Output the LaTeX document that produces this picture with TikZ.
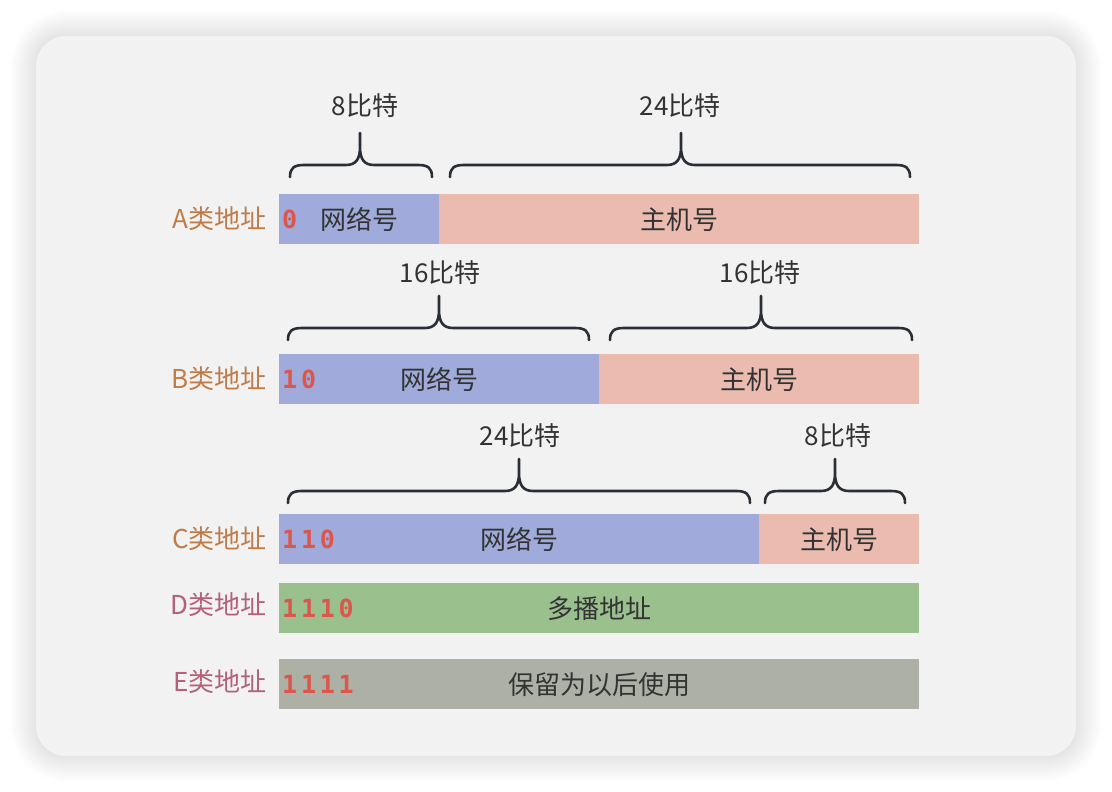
\documentclass[tikz,border=0pt]{standalone}
\usepackage{fontspec}
\setmainfont{Noto Sans CJK SC}
\newfontfamily\bitfont{DejaVu Sans Mono}[LetterSpace=15]
\definecolor{cardbg}{HTML}{F2F2F2}
\definecolor{netblue}{HTML}{A0ABDC}
\definecolor{hostpink}{HTML}{EBBBB0}
\definecolor{mcgreen}{HTML}{9AC18D}
\definecolor{resgray}{HTML}{ADB0A5}
\definecolor{bitred}{HTML}{DC564C}
\definecolor{labbrown}{HTML}{C07C48}
\definecolor{labpink}{HTML}{B5607A}
\definecolor{txt}{HTML}{333333}
\definecolor{bracec}{HTML}{2A2E35}
\newcommand{\bitbrace}[4]{% x1, x2, xm, yline
  \draw[bracestyle] (#1,#4+12) .. controls (#1,#4+3) and (#1+4,#4) .. (#1+14,#4)
    -- (#3-14,#4) .. controls (#3-4,#4) and (#3,#4-6) .. (#3,#4-18) -- (#3,#4-32)
    (#3,#4-18) .. controls (#3,#4-6) and (#3+4,#4) .. (#3+14,#4)
    -- (#2-14,#4) .. controls (#2-4,#4) and (#2,#4+3) .. (#2,#4+12);}
\begin{document}
\begin{tikzpicture}[x=1pt,y=-1pt,
  bar/.style={draw=none,anchor=north west,minimum height=50pt,inner sep=0pt,
    font=\fontsize{26}{26}\selectfont,text=txt},
  bits/.style={anchor=west,inner sep=0pt,text=bitred,
    font=\bitfont\bfseries\fontsize{25}{25}\selectfont},
  cls/.style={anchor=east,inner sep=0pt,font=\fontsize{26}{26}\selectfont},
  bitlab/.style={inner sep=0pt,text=txt,font=\fontsize{26}{26}\selectfont},
  bracestyle/.style={draw=bracec,line width=2.6pt,line cap=round,line join=round}]
\useasboundingbox (0,0) rectangle (1112,792);
\fill[white] (0,0) rectangle (1112,792);
% shadow
\foreach \i in {1,...,26}{
  \fill[black,opacity=0.0055,rounded corners=30+\i] (36-\i,36-\i) rectangle (1076+\i,756+\i);
}
\fill[cardbg,rounded corners=30] (36,36) rectangle (1076,756);

% row A
\node[bar,fill=netblue,minimum width=160pt] (anet) at (279,194) {网络号};
\node[bar,fill=hostpink,minimum width=480pt] (ahost) at (439,194) {主机号};
\node[bits] (abits) at (282,219) {0};
\node[cls,text=labbrown] (acls) at (267,219) {A类地址};
\bitbrace{290}{432}{360}{165}
\bitbrace{450}{910}{681}{165}
\node[bitlab] (abl1) at (365,106) {8比特};
\node[bitlab] (abl2) at (680,106) {24比特};

% row B
\node[bar,fill=netblue,minimum width=320pt] (bnet) at (279,354) {网络号};
\node[bar,fill=hostpink,minimum width=320pt] (bhost) at (599,354) {主机号};
\node[bits] (bbits) at (282,379) {10};
\node[cls,text=labbrown] (bcls) at (267,379) {B类地址};
\bitbrace{288}{589}{439}{328}
\bitbrace{610}{912}{761}{328}
\node[bitlab] (bbl1) at (440,273) {16比特};
\node[bitlab] (bbl2) at (760,273) {16比特};

% row C
\node[bar,fill=netblue,minimum width=480pt] (cnet) at (279,514) {网络号};
\node[bar,fill=hostpink,minimum width=160pt] (chost) at (759,514) {主机号};
\node[bits] (cbits) at (282,539) {110};
\node[cls,text=labbrown] (ccls) at (267,539) {C类地址};
\bitbrace{288}{750}{519}{491}
\bitbrace{765}{905}{835}{491}
\node[bitlab] (cbl1) at (520,436) {24比特};
\node[bitlab] (cbl2) at (838,436) {8比特};

% row D
\node[bar,fill=mcgreen,minimum width=640pt] (dmc) at (279,583) {多播地址};
\node[bits] (dbits) at (282,608) {1110};
\node[cls,text=labpink] (dcls) at (267,605) {D类地址};

% row E
\node[bar,fill=resgray,minimum width=640pt] (eres) at (279,659) {保留为以后使用};
\node[bits] (ebits) at (282,684) {1111};
\node[cls,text=labpink] (ecls) at (267,682) {E类地址};
\end{tikzpicture}
\end{document}
